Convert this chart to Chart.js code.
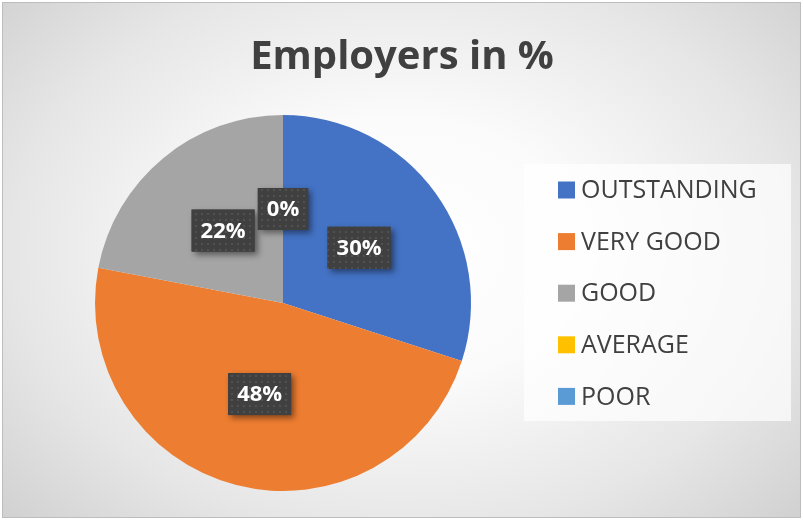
<!DOCTYPE html>
<html>
<head>
<meta charset="utf-8">
<script src="https://cdn.jsdelivr.net/npm/chart.js@4.4.0/dist/chart.umd.min.js"></script>
<style>
  html, body { margin: 0; padding: 0; background: #ffffff; }
  #wrap {
    position: absolute; left: 2px; top: 2px; width: 799px; height: 516px;
    border: 1px solid #bdbdbd; box-sizing: border-box;
    background: radial-gradient(ellipse 75% 85% at 50% 48%, #ffffff 0%, #fbfbfb 30%, #e6e6e6 65%, #c9c9c9 100%);
  }
  #c { position: absolute; left: -2px; top: -2px; }
</style>
</head>
<body>
<div id="wrap"><canvas id="c" width="804" height="521"></canvas></div>
<script>
const title = "Employers in %";
const categories = ["OUTSTANDING", "VERY GOOD", "GOOD", "AVERAGE", "POOR"];
const values = [30, 48, 22, 0, 0];
const colors = ["#4472C4", "#ED7D31", "#A5A5A5", "#FFC000", "#5B9BD5"];

function makePattern(ctx) {
  const p = document.createElement('canvas');
  p.width = 6; p.height = 6;
  const pc = p.getContext('2d');
  pc.fillStyle = '#404040';
  pc.fillRect(0, 0, 6, 6);
  pc.fillStyle = '#515151';
  pc.fillRect(2, 2, 2, 2);
  return ctx.createPattern(p, 'repeat');
}

const decor = {
  id: 'decor',
  beforeDraw(chart) {
    const ctx = chart.ctx;
    ctx.save();
    // title
    ctx.fillStyle = '#404040';
    ctx.font = 'bold 40px "Open Sans"';
    ctx.textAlign = 'center';
    ctx.textBaseline = 'alphabetic';
    ctx.fillText(title, 401, 68);
    // legend box
    ctx.fillStyle = 'rgba(255,255,255,0.7)';
    ctx.fillRect(523, 163, 267, 257);
    ctx.font = '25px "Open Sans"';
    ctx.textAlign = 'left';
    ctx.textBaseline = 'middle';
    chart.data.labels.forEach((lab, i) => {
      const y = 189 + i * 51.6;
      ctx.fillStyle = chart.data.datasets[0].backgroundColor[i];
      ctx.fillRect(557, y - 8.5, 17, 17);
      ctx.fillStyle = '#404040';
      ctx.fillText(lab, 580, y + 1);
    });
    ctx.restore();
  },
  afterDatasetsDraw(chart) {
    const ctx = chart.ctx;
    const meta = chart.getDatasetMeta(0);
    const data = chart.data.datasets[0].data;
    const total = data.reduce((a, b) => a + b, 0);
    const pat = makePattern(ctx);
    const seen = [];
    ctx.save();
    ctx.font = 'bold 22px "Open Sans"';
    ctx.textAlign = 'center';
    ctx.textBaseline = 'middle';
    meta.data.forEach((arc, i) => {
      const pos = arc.tooltipPosition();
      const key = Math.round(pos.x) + ',' + Math.round(pos.y);
      if (seen.includes(key)) return;
      seen.push(key);
      const txt = Math.round(data[i] / total * 100) + '%';
      const w = ctx.measureText(txt).width + 18;
      const h = 42;
      const x = pos.x - w / 2, y = pos.y - h / 2;
      ctx.save();
      ctx.shadowColor = 'rgba(0,0,0,0.45)';
      ctx.shadowBlur = 6;
      ctx.shadowOffsetX = 3;
      ctx.shadowOffsetY = 3;
      ctx.fillStyle = '#404040';
      ctx.fillRect(x, y, w, h);
      ctx.restore();
      ctx.fillStyle = pat;
      ctx.fillRect(x, y, w, h);
      ctx.fillStyle = '#ffffff';
      ctx.fillText(txt, pos.x, pos.y + 1);
    });
    ctx.restore();
  }
};

new Chart(document.getElementById('c'), {
  type: 'pie',
  data: {
    labels: categories,
    datasets: [{ data: values, backgroundColor: colors, borderWidth: 0 }]
  },
  options: {
    responsive: false,
    animation: false,
    layout: { padding: { left: 94, top: 114, right: 334, bottom: 31 } },
    plugins: { legend: { display: false }, title: { display: false }, tooltip: { enabled: false } }
  },
  plugins: [decor]
});
</script>
</body>
</html>
